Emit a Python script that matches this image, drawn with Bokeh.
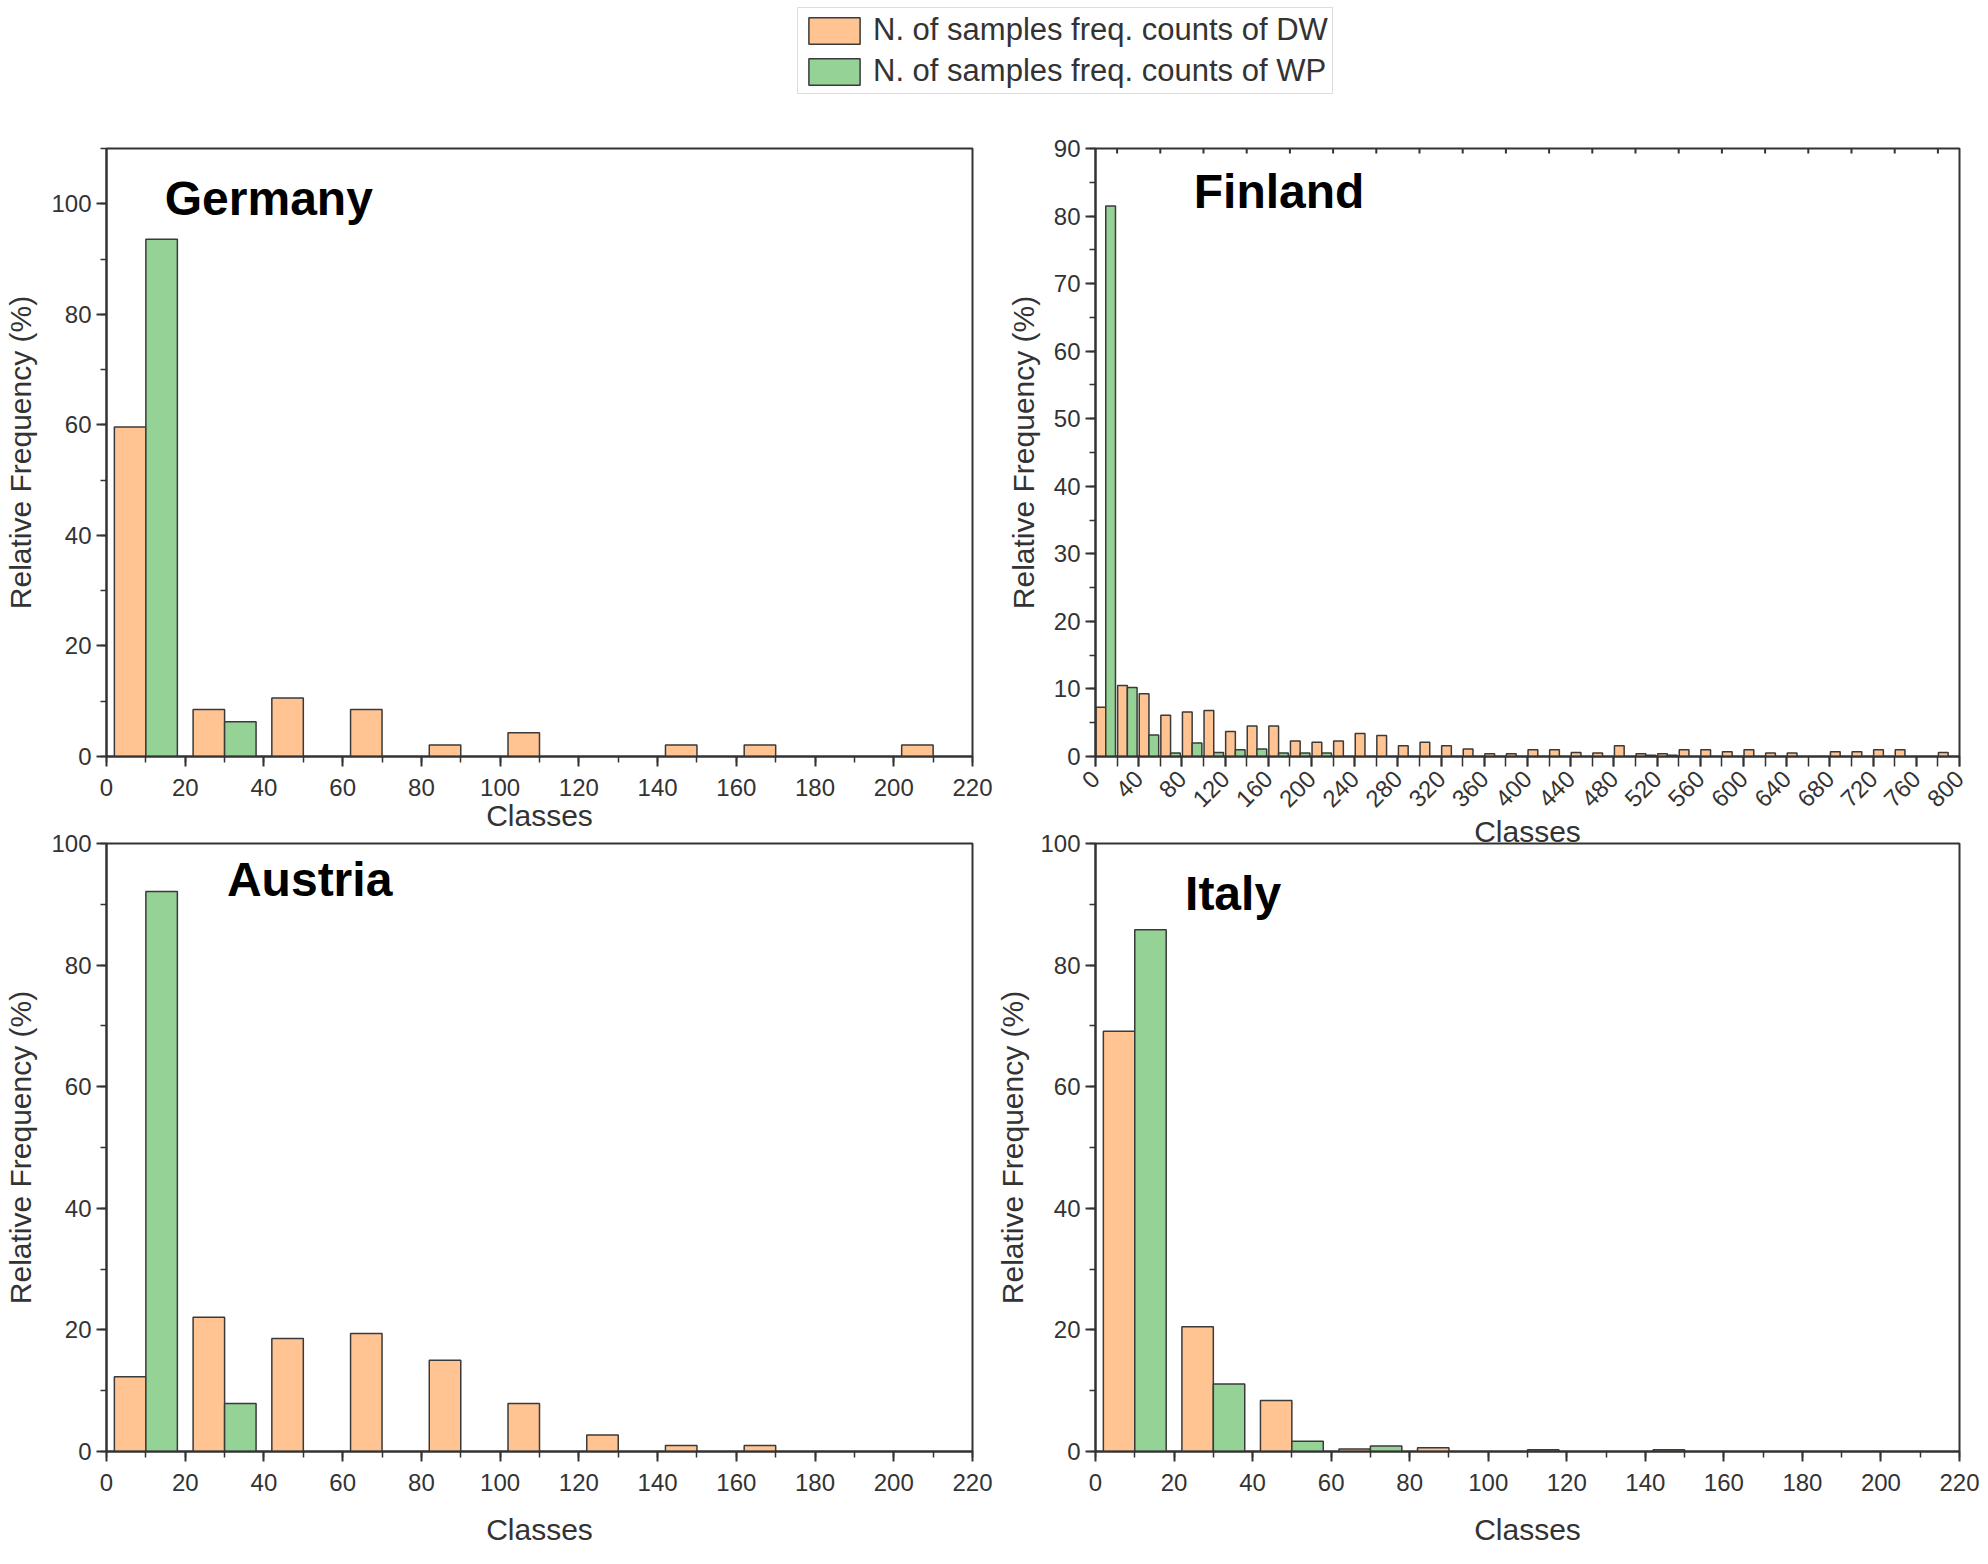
import math
import numpy as np
from bokeh.plotting import figure
from bokeh.models import (Range1d, SingleIntervalTicker, Label, Legend, LegendItem)
from bokeh.layouts import column, row
from bokeh.embed import file_html
from bokeh.resources import INLINE

# ---------------- data ----------------
legend_dw = "N. of samples freq. counts of DW"
legend_wp = "N. of samples freq. counts of WP"

germany_classes = [0, 20, 40, 60, 80, 100, 120, 140, 160, 180, 200]
germany_dw = [59.6, 8.5, 10.6, 8.5, 2.1, 4.3, 0, 2.1, 2.1, 0, 2.1]
germany_wp = [93.6, 6.3, 0, 0, 0, 0, 0, 0, 0, 0, 0]

austria_classes = [0, 20, 40, 60, 80, 100, 120, 140, 160, 180, 200]
austria_dw = [12.3, 22.1, 18.6, 19.4, 15.0, 7.9, 2.7, 1.0, 1.0, 0, 0]
austria_wp = [92.1, 7.9, 0, 0, 0, 0, 0, 0, 0, 0, 0]

italy_classes = [0, 20, 40, 60, 80, 100, 120, 140, 160, 180, 200]
italy_dw = [69.1, 20.5, 8.4, 0.4, 0.6, 0, 0, 0.3, 0, 0, 0]
italy_wp = [85.8, 11.1, 1.7, 0.9, 0, 0.3, 0, 0, 0, 0, 0]

finland_classes = list(range(0, 800, 20))
finland_dw = [7.3, 10.5, 9.3, 6.1, 6.6, 6.8, 3.7, 4.5, 4.5, 2.3,
              2.1, 2.3, 3.4, 3.1, 1.6, 2.1, 1.6, 1.1, 0.4, 0.4,
              1.0, 1.0, 0.6, 0.5, 1.6, 0.4, 0.4, 1.0, 1.0, 0.7,
              1.0, 0.5, 0.5, 0, 0.7, 0.7, 1.0, 1.0, 0, 0.6]
finland_wp = [81.5, 10.2, 3.2, 0.5, 2.0, 0.6, 1.0, 1.1, 0.5, 0.5,
              0.5, 0, 0, 0, 0, 0, 0, 0, 0, 0,
              0, 0, 0, 0, 0, 0.2, 0.2, 0, 0, 0,
              0, 0, 0, 0, 0, 0, 0, 0, 0, 0]
finland_top_ticks = finland_classes[1::2]

# ---------------- style ----------------
DW_COLOR = "#FFC492"
WP_COLOR = "#95D296"
EDGE = "#3a3a3a"
AX = "#333333"
FONT = "Liberation Sans"


def style_axes(p, y_label_standoff, x_label_standoff, x_tick_standoff):
    p.outline_line_color = AX
    p.outline_line_width = 2
    p.xgrid.visible = False
    p.ygrid.visible = False
    for ax in list(p.xaxis) + list(p.yaxis):
        ax.axis_line_color = AX
        ax.axis_line_width = 2
        ax.major_tick_line_color = AX
        ax.major_tick_line_width = 2
        ax.minor_tick_line_color = AX
        ax.minor_tick_line_width = 1.5
        ax.major_tick_in = 0
        ax.major_tick_out = 10
        ax.minor_tick_in = 0
        ax.minor_tick_out = 6
        ax.major_label_text_font = FONT
        ax.major_label_text_font_size = "24px"
        ax.major_label_text_color = AX
        ax.major_label_standoff = 5
        ax.axis_label_text_font = FONT
        ax.axis_label_text_font_size = "30px"
        ax.axis_label_text_font_style = "normal"
        ax.axis_label_text_color = AX
    for ax in p.yaxis:
        ax.axis_label_standoff = y_label_standoff
    for ax in p.xaxis:
        ax.axis_label_standoff = x_label_standoff
        ax.major_label_standoff = x_tick_standoff


def panel(name, classes, dw, wp, xmax, ymax, xint, yint, off_dw, off_wp, bw,
          width, height, bl, br, bt, bb, title_xy, rotate=False, xls=0, yls=10, xts=12):
    p = figure(width=width, height=height, output_backend="svg", toolbar_location=None,
               x_range=Range1d(0, xmax), y_range=Range1d(0, ymax),
               min_border_left=bl, min_border_right=br, min_border_top=bt,
               min_border_bottom=bb, x_axis_label="Classes",
               y_axis_label="Relative Frequency (%)")
    c = np.array(classes, dtype=float)
    d = np.array(dw, dtype=float)
    w = np.array(wp, dtype=float)
    md = d > 0
    mw = w > 0
    p.vbar(x=(c + off_dw)[md], top=d[md], width=bw, bottom=0,
           fill_color=DW_COLOR, line_color=EDGE, line_width=1.5)
    p.vbar(x=(c + off_wp)[mw], top=w[mw], width=bw, bottom=0,
           fill_color=WP_COLOR, line_color=EDGE, line_width=1.5)
    p.xaxis.ticker = SingleIntervalTicker(interval=xint, num_minor_ticks=2)
    p.yaxis.ticker = SingleIntervalTicker(interval=yint, num_minor_ticks=2)
    style_axes(p, yls, xls, xts)
    if rotate:
        p.xaxis.major_label_orientation = math.pi / 4
        p.xaxis.minor_tick_out = 10
    p.add_layout(Label(x=title_xy[0], y=title_xy[1], text=name, text_font=FONT,
                       text_font_size="48px", text_font_style="bold",
                       text_color="black", text_baseline="alphabetic"))
    return p


# ---------------- legend strip ----------------
top = figure(width=1984, height=108, output_backend="svg", toolbar_location=None,
             x_range=Range1d(0, 1), y_range=Range1d(0, 1),
             x_axis_location=None, y_axis_location=None, min_border=0)
top.outline_line_color = None
top.grid.visible = False
# hidden legend proxies: only their swatches are drawn in the legend
r_dw = top.vbar(x=[0.5], top=[1], width=0.1, fill_color=DW_COLOR, line_color=EDGE,
                line_width=1.5, visible=False)
r_wp = top.vbar(x=[0.5], top=[1], width=0.1, fill_color=WP_COLOR, line_color=EDGE,
                line_width=1.5, visible=False)
leg = Legend(items=[LegendItem(label=legend_dw, renderers=[r_dw]),
                    LegendItem(label=legend_wp, renderers=[r_wp])],
             location=(797, 14), glyph_width=64, glyph_height=33, label_height=33,
             label_text_font=FONT, label_text_font_size="31px", label_text_color=AX,
             padding=4, spacing=5, margin=0, label_standoff=7,
             border_line_color="#bbbbbb", border_line_width=1.5)
top.add_layout(leg)

# ---------------- panels ----------------
germany = panel("Germany", germany_classes, germany_dw, germany_wp, 220, 110, 20, 20,
                6, 14, 8, 993, 733, 106, 21, 40, 85, (14.8, 101.0), xls=0, yls=11)
austria = panel("Austria", austria_classes, austria_dw, austria_wp, 220, 100, 20, 20,
                6, 14, 8, 993, 735, 106, 21, 30, 97, (30.6, 94.0), xls=19, yls=11)
austria.margin = (-28, 0, 0, 0)
austria.border_fill_color = None
austria.background_fill_color = None

finland = panel("Finland", finland_classes, finland_dw, finland_wp, 800, 90, 40, 10,
                5, 14, 9, 991, 745, 100, 25, 40, 97, (91.0, 83.7), rotate=True, xls=-3,
                yls=11, xts=8)
finland.segment(x0=finland_top_ticks, x1=finland_top_ticks,
                y0=[90] * len(finland_top_ticks), y1=[89.25] * len(finland_top_ticks),
                line_color=AX, line_width=2)
italy = panel("Italy", italy_classes, italy_dw, italy_wp, 220, 100, 20, 20,
              6, 14, 8, 991, 725, 100, 25, 20, 97, (22.8, 91.8), xls=19, yls=8)
italy.margin = (-30, 0, 0, 0)
italy.border_fill_color = None
italy.background_fill_color = None

layout = column(top, row(column(germany, austria), column(finland, italy)))

open("out.html", "w").write(file_html(layout, INLINE))
